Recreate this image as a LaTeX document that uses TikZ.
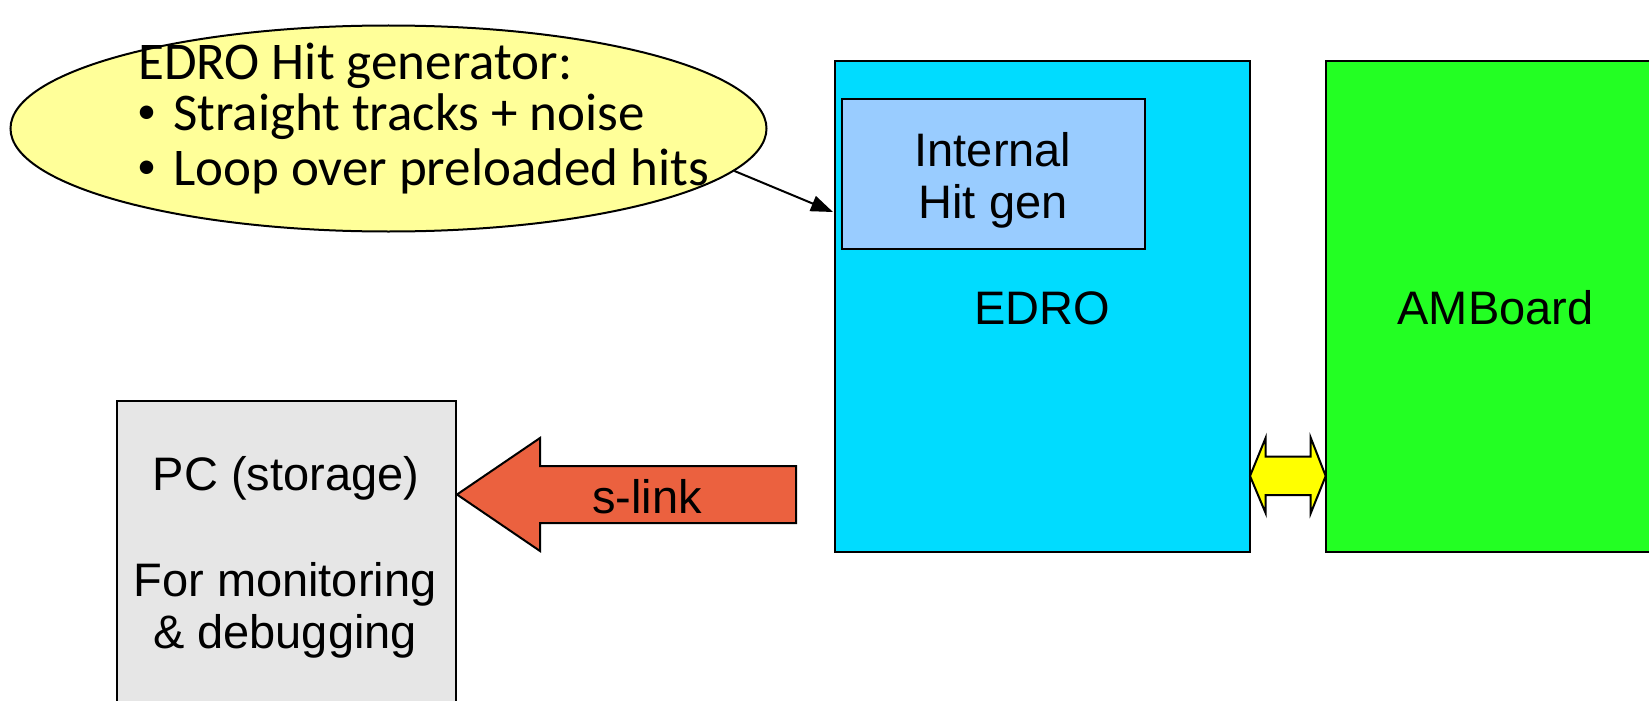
\documentclass[tikz,border=0pt]{standalone}
\usepackage{fontspec}
\setmainfont{Liberation Sans}
\newfontfamily\calloutfont{Carlito}
\usetikzlibrary{shapes.geometric,arrows.meta}

\definecolor{edrocyan}{RGB}{0,220,255}
\definecolor{hitblue}{RGB}{153,204,255}
\definecolor{amgreen}{RGB}{35,255,35}
\definecolor{pcgray}{RGB}{230,230,230}
\definecolor{slinkred}{RGB}{235,97,63}
\definecolor{calloutyellow}{RGB}{255,255,153}
\definecolor{linkyellow}{RGB}{255,255,0}

% small round bullet for the callout list
\newcommand{\calloutbullet}{\raisebox{0.12em}{\scalebox{0.72}{\textbullet}}}

\begin{document}
\begin{tikzpicture}[x=1pt,y=-1pt,
  boardbox/.style={draw=black, line width=2pt, rectangle, inner sep=0pt, anchor=north west},
  boxlabel/.style={font=\fontsize{47}{52}\selectfont, anchor=base, inner sep=0pt},
  calloutline/.style={font=\calloutfont\fontsize{53}{58}\selectfont, anchor=base west, inner sep=0pt},
  blockarrow/.style={draw=black, line width=2pt, line join=miter},
]
\useasboundingbox (0,0) rectangle (1649,701);
\clip (0,0) rectangle (1649,701);

% boards
\node[boardbox, fill=edrocyan, minimum width=415, minimum height=491] (edro) at (834,60) {};
\node[boardbox, fill=hitblue, minimum width=303, minimum height=150] (hitgen) at (841,98) {};
\node[boardbox, fill=amgreen, minimum width=345, minimum height=491] (amb) at (1325,60) {};
\node[boardbox, fill=pcgray, minimum width=339, minimum height=320] (pc) at (116,400) {};

% board labels
\node[boxlabel] (hitgenA) at (993,166.5) {Internal};
\node[boxlabel] (hitgenB) at (993,218) {Hit gen};
\node[boxlabel] (edrolbl) at (1042,324) {EDRO};
\node[boxlabel] (amblbl) at (1495.5,324) {AMBoard};
\node[boxlabel] (pcA) at (286,490) {PC (storage)};
\node[boxlabel] (pcB) at (285,596.5) {For monitoring};
\node[boxlabel] (pcC) at (285,648) {\& debugging};

% s-link block arrow from EDRO to the PC
\draw[blockarrow, fill=slinkred]
  (457,494.5) -- (540,438) -- (540,466) -- (796,466) -- (796,523)
  -- (540,523) -- (540,551) -- cycle;
\node[boxlabel] (slink) at (647,513) {s-link};

% bidirectional link between EDRO and AMBoard
\draw[blockarrow, fill=linkyellow]
  (1250,476) -- (1265.7,437.7) -- (1265.7,456.7) -- (1310.7,456.7)
  -- (1310.7,437.7) -- (1325.7,476) -- (1310.7,513.3) -- (1310.7,495)
  -- (1265.7,495) -- (1265.7,513.3) -- cycle;

% callout bubble
\node[draw=black, ellipse, fill=calloutyellow, line width=2pt,
      minimum width=756, minimum height=206, inner sep=0pt] (bubble) at (388.5,128.5) {};
\node[calloutline] (calA) at (138,79) {EDRO Hit generator:};
\node[calloutline] (calB) at (137,130) {\calloutbullet\hspace{17pt}Straight tracks + noise};
\node[calloutline] (calC) at (137,185) {\calloutbullet\hspace{17pt}Loop over preloaded hits};

\coordinate (hitin) at (833,212);
\draw[line width=2pt, -{Triangle[length=22pt,width=16pt]}] (bubble.-7.6) -- (hitin);
\end{tikzpicture}
\end{document}
